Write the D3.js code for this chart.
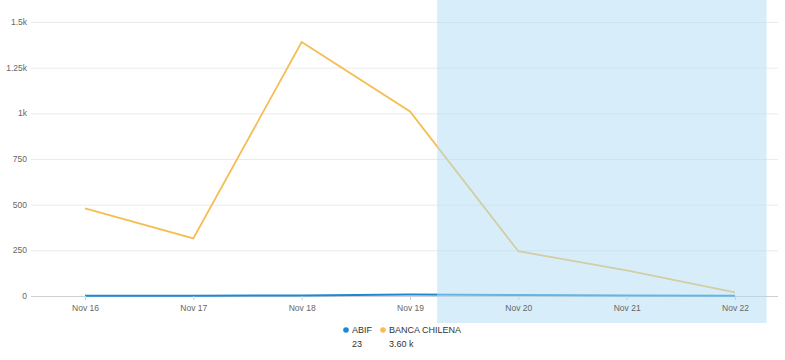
<!DOCTYPE html>
<html><head><meta charset="utf-8">
<script src="https://cdn.jsdelivr.net/npm/d3@7"></script>
<style>
body{margin:0;background:#fff;}
svg text{font-family:"Liberation Sans",Arial,sans-serif;}
</style>
</head><body>
<svg id="c" width="785" height="360"></svg>
<script>
const dates = ["2023-11-16","2023-11-17","2023-11-18","2023-11-19","2023-11-20","2023-11-21","2023-11-22"];
const tickLabels = ["Nov 16","Nov 17","Nov 18","Nov 19","Nov 20","Nov 21","Nov 22"];
const abif = [1, 2, 3, 8, 5, 3, 1];
const bancaChilena = [480, 315, 1390, 1010, 245, 140, 20];
const yTicks = [0, 250, 500, 750, 1000, 1250, 1500];
const yTickLabels = ["0","250","500","750","1k","1.25k","1.5k"];
const seriesNames = ["ABIF","BANCA CHILENA"];
const seriesTotals = ["23","3.60 k"];
const bandRange = ["2023-11-19T06:00","2023-11-22T07:00"];

const parse = d3.isoParse;
const svg = d3.select("#c");
const x = d3.scaleTime().domain([parse(dates[0]), parse(dates[dates.length-1])]).range([85, 735]);
const y = d3.scaleLinear().domain([0, 1500]).range([296, 22]);
const gridL = 31, gridR = 778;
const FONT = "'Liberation Sans', Arial, sans-serif";

// gridlines
svg.append("g").selectAll("line").data(yTicks.slice(1)).join("line")
  .attr("x1", gridL).attr("x2", gridR)
  .attr("y1", d => y(d)+0.5).attr("y2", d => y(d)+0.5)
  .attr("stroke", "#ebebeb").attr("stroke-width", 1);

// x axis baseline
svg.append("line").attr("x1", gridL).attr("x2", gridR)
  .attr("y1", y(0)+0.5).attr("y2", y(0)+0.5).attr("stroke", "#cfcfcf").attr("stroke-width", 1);

// lines
const line = d3.line().x((d,i) => x(parse(dates[i]))).y(d => y(d));
svg.append("path").datum(bancaChilena).attr("d", line)
  .attr("fill", "none").attr("stroke", "#f5bd52").attr("stroke-width", 1.8);
svg.append("path").datum(abif).attr("d", line)
  .attr("fill", "none").attr("stroke", "#1a8ad4").attr("stroke-width", 2);

// highlight band (over lines)
svg.append("rect")
  .attr("x", x(parse(bandRange[0]))).attr("y", 0)
  .attr("width", x(parse(bandRange[1])) - x(parse(bandRange[0])))
  .attr("height", 323)
  .attr("fill", "rgb(175,222,245)").attr("fill-opacity", 0.5);

// y labels
svg.append("g").selectAll("text").data(yTicks).join("text")
  .attr("x", 27).attr("y", d => y(d)).attr("dy", "0.35em")
  .attr("text-anchor", "end").attr("font-size", 8.5).attr("fill", "#666")
  .text((d,i) => yTickLabels[i]);

// x ticks
const xg = svg.append("g").attr("transform", `translate(0,${y(0)})`);
xg.call(d3.axisBottom(x).tickValues(dates.map(parse)).tickSize(4).tickFormat((d,i) => tickLabels[i]));
xg.select(".domain").remove();
xg.selectAll(".tick line").attr("stroke", "#cfcfcf");
xg.selectAll(".tick text").attr("font-size", 8.5).attr("fill", "#666").attr("dy", "0.95em")
  .attr("font-family", FONT);

// legend
const colors = ["#1a8ad4", "#f5bd52"];
const legX = [346, 383];
const lg = svg.append("g");
seriesNames.forEach((n, i) => {
  lg.append("circle").attr("cx", legX[i]).attr("cy", 330).attr("r", 2.8).attr("fill", colors[i]);
  lg.append("text").attr("x", legX[i] + 6).attr("y", 330).attr("dy", "0.35em")
    .attr("font-size", 9).attr("fill", "#333").text(n);
  lg.append("text").attr("x", legX[i] + 6).attr("y", 344).attr("dy", "0.35em")
    .attr("font-size", 9).attr("fill", "#333").text(seriesTotals[i]);
});
</script>
</body></html>
